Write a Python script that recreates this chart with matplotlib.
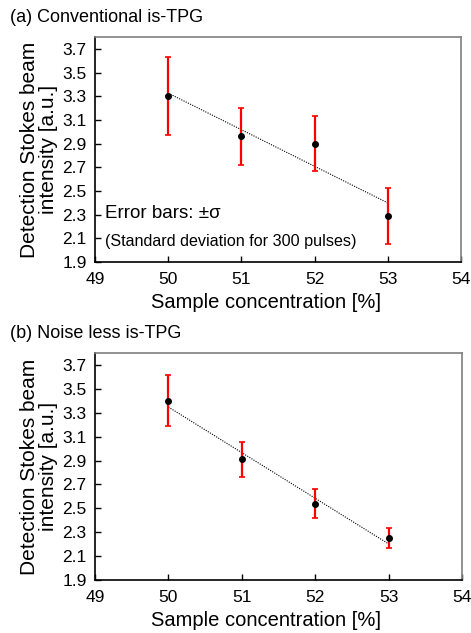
import numpy as np
import matplotlib
matplotlib.use("Agg")
import matplotlib.pyplot as plt

plt.rcParams['font.family'] = ['Liberation Sans', 'DejaVu Sans']

conc = [50, 51, 52, 53]
conv_vals = [3.30, 2.96, 2.90, 2.29]
conv_err = [0.33, 0.24, 0.23, 0.235]
noiseless_vals = [3.40, 2.91, 2.54, 2.25]
noiseless_err = [0.215, 0.145, 0.125, 0.085]
titles = ["(a) Conventional is-TPG", "(b) Noise less is-TPG"]
yticks = [1.9, 2.1, 2.3, 2.5, 2.7, 2.9, 3.1, 3.3, 3.5, 3.7]
xticks = [49, 50, 51, 52, 53, 54]

fig = plt.figure(figsize=(4.71, 6.33), dpi=100)
W, H = 471, 633
boxes = [(95, 37, 461, 262), (95, 353, 462, 580)]
panels = [(conv_vals, conv_err), (noiseless_vals, noiseless_err)]

for i, ((l, t, r, b), (vals, err)) in enumerate(zip(boxes, panels)):
    ax = fig.add_axes([l / W, 1 - b / H, (r - l) / W, (b - t) / H])
    x = np.array(conc, dtype=float)
    y = np.array(vals)
    # linear trend through the points
    k, c = np.polyfit(x, y, 1)
    ax.plot(x, k * x + c, color='black', ls=(0, (1, 1.2)), lw=0.8, zorder=2)
    ax.errorbar(x, y, yerr=err, fmt='none', ecolor='#ff0000', elinewidth=1.6,
                capsize=2.5, capthick=1.2, zorder=3)
    ax.plot(x, y, 'o', color='black', ms=4, zorder=4)
    ax.set_xlim(49, 54)
    ax.set_ylim(1.9, 3.8)
    ax.set_xticks(xticks)
    ax.set_yticks(yticks)
    ax.set_yticklabels([f"{v:.1f}" for v in yticks])
    ax.tick_params(direction='in', labelsize=12.5, length=4, width=1)
    ax.tick_params(axis='x', pad=7)
    ax.tick_params(axis='y', pad=6)
    for s in ['left', 'bottom']:
        ax.spines[s].set_color('black')
        ax.spines[s].set_linewidth(1.2)
    for s in ['top', 'right']:
        ax.spines[s].set_color('#7f7f7f')
        ax.spines[s].set_linewidth(1.2)
    ax.set_xlabel("Sample concentration [%]", fontsize=14.5)
    ax.xaxis.set_label_coords((266 - l) / (r - l), -40 / (b - t), transform=ax.transAxes)
    ax.xaxis.label.set_va('center')
    ax.set_ylabel("Detection Stokes beam\nintensity [a.u.]", fontsize=15,
                  linespacing=1.0)
    ax.yaxis.set_label_coords(-(95 - 39) / (r - l), 0.5)
    ax.yaxis.label.set_va('center')
    fig.text(10 / W, 1 - (t - 20) / H, titles[i], fontsize=13, va='center', ha='left')
    if i == 0:
        ax.text(49.14, 2.31, "Error bars: \u00b1\u03c3", fontsize=13.5, va='center')
        ax.text(49.14, 2.07, "(Standard deviation for 300 pulses)", fontsize=11.6,
                va='center')

fig.savefig("out.png", dpi=100)
